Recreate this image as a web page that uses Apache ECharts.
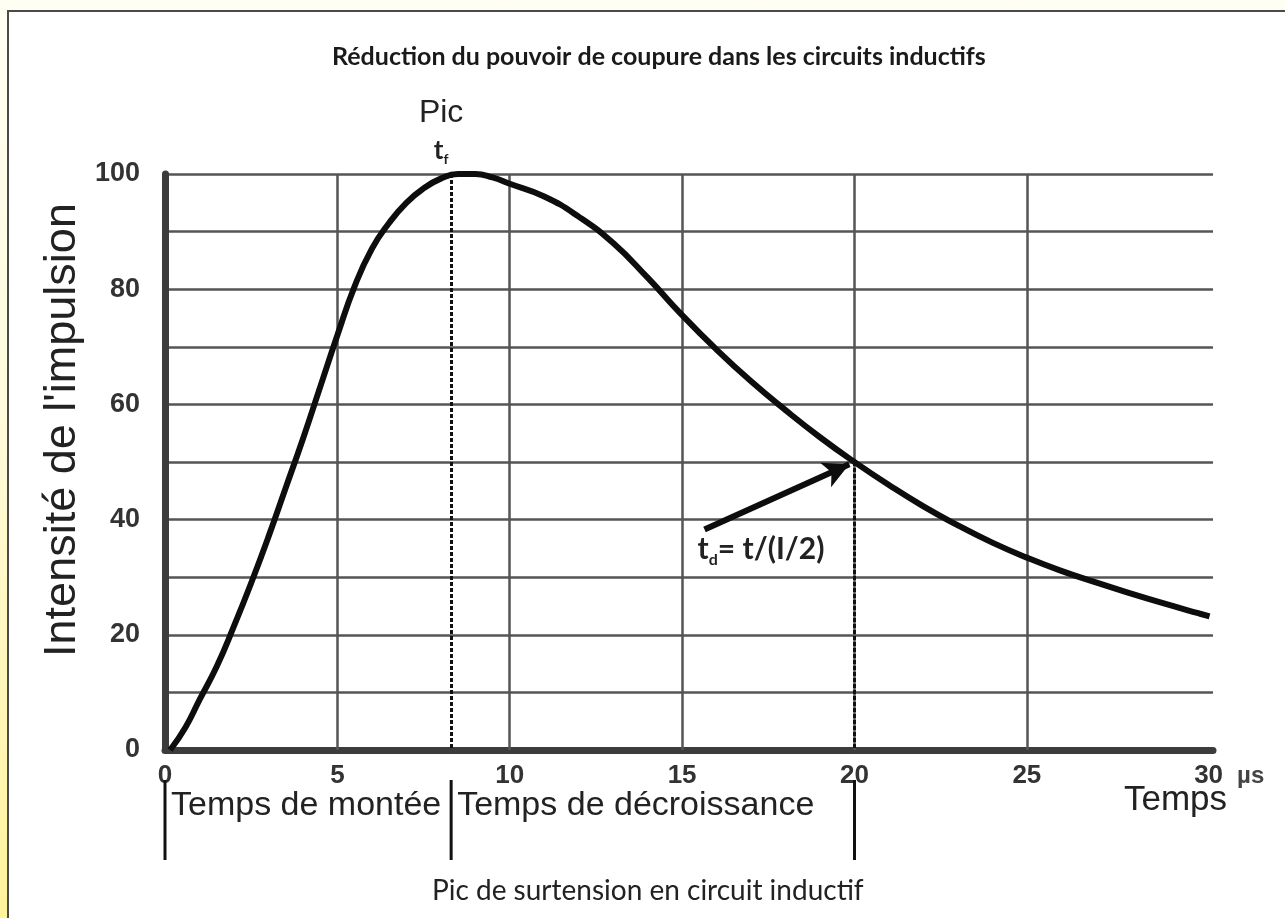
<!DOCTYPE html>
<html>
<head>
<meta charset="utf-8">
<script src="https://cdn.jsdelivr.net/npm/echarts@6/dist/echarts.min.js"></script>
<style>
  html, body { margin: 0; padding: 0; width: 1285px; height: 918px; overflow: hidden; }
  body { background: linear-gradient(to bottom, #fffef3 0%, #fffbdc 45%, #fff39c 100%); }
  #frame { position: absolute; left: 7px; top: 10px; right: 0; bottom: 0; background: #ffffff;
           border-top: 2px solid #4a4a4a; border-left: 2px solid #4a4a4a; }
  #chart { position: absolute; left: 0; top: 0; width: 1285px; height: 918px; }
</style>
</head>
<body>
<div id="frame"></div>
<div id="chart"></div>
<script>
// Pulse waveform: time in microseconds, intensity in % of peak
const timeUs = [0.15, 0.6, 1.0, 1.5, 2.0, 2.5, 3.0, 3.5, 4.0, 4.5, 5.0, 5.5, 6.0, 6.5, 7.0, 7.5, 8.0, 8.5, 9.0, 9.5,
                10, 11, 12, 13, 14, 15, 16, 17, 18, 19, 20, 21, 22, 23, 24, 25, 26, 27, 28, 29, 30, 30.3];
const intensity = [0, 4, 8.7, 14.5, 21.5, 29, 37, 45.5, 54, 63, 72, 80.5, 87, 91.5, 95, 97.5, 99.2, 100, 100, 99.4,
                   98.3, 96.1, 92.6, 88, 82, 75.5, 69.5, 64, 59, 54.3, 50, 46, 42.3, 39, 36, 33.4, 31.1, 29.1, 27.2, 25.4, 23.7, 23.2];

// Axis settings
const xMax = 30.4;
const xStep = 5;
const yMax = 100;
const yStep = 10;
const yLabelStep = 20;
const verticalGrid = [5, 10, 15, 20, 25];

// Key instants
const tPeak = 8.3;       // rise time t_f
const tHalf = 20;        // time to half value t_d
const halfValue = 50;

// Phase separators under the time axis and their captions
const separators = [0, tPeak, tHalf];
const phaseLabels = ['Temps de montée', 'Temps de décroissance', ''];

// Arrow pointing at the half-value point, and its caption anchor
const arrowFrom = [15.65, 38.3];
const arrowTo = [19.85, 49.6];
const tdLabelAt = [15.45, 34.8];

const curve = timeUs.map((t, i) => [t, intensity[i]]);

const chart = echarts.init(document.getElementById('chart'), null, { renderer: 'canvas' });

const axisFont = 'Liberation Sans, Arial, sans-serif';

chart.setOption({
  animation: false,
  backgroundColor: 'transparent',
  title: [
    {
      text: 'Réduction du pouvoir de coupure dans les circuits inductifs',
      left: 327,
      top: 39,
      padding: 5,
      textStyle: { fontFamily: 'Lato', fontWeight: 'bold', fontSize: 25, color: '#1a1a1a' }
    },
    {
      text: 'Pic de surtension en circuit inductif',
      left: 427,
      top: 872,
      padding: 5,
      textStyle: { fontFamily: 'Lato', fontWeight: 'normal', fontSize: 28, color: '#222' }
    },
    {
      // time axis title
      text: 'Temps',
      right: 58,
      top: 783,
      padding: 0,
      textStyle: { fontFamily: axisFont, fontWeight: 'normal', fontSize: 35, color: '#222' }
    }
  ],
  grid: { left: 165, right: 1285 - 1213, top: 174, bottom: 168, outerBoundsMode: 'none', containLabel: false },
  xAxis: {
    type: 'value',
    min: 0,
    max: xMax,
    interval: xStep,
    axisLine: { lineStyle: { color: '#3c3c3c', width: 7 } },
    axisTick: { show: false },
    splitLine: { show: false },
    axisLabel: {
      margin: 13,
      fontFamily: axisFont,
      fontWeight: 'bold',
      fontSize: 26,
      color: '#333',
      formatter: v => (v === 30 ? '{n|30}{u|µs}' : (v % xStep === 0 ? String(v) : '')),
      rich: {
        n: { fontFamily: axisFont, fontWeight: 'bold', fontSize: 26, color: '#333', padding: [0, 14, 0, 60] },
        u: { fontFamily: axisFont, fontWeight: 'bold', fontSize: 24, color: '#444' }
      }
    }
  },
  yAxis: {
    type: 'value',
    min: 0,
    max: yMax,
    interval: yStep,
    name: "Intensité de l'impulsion",
    nameLocation: 'middle',
    nameRotate: 90,
    nameGap: 80,
    nameMoveOverlap: false,
    nameTextStyle: { fontFamily: axisFont, fontSize: 45, color: '#222', padding: [14, 0, 0, 64] },
    axisLine: { show: true, lineStyle: { color: '#3c3c3c', width: 7 } },
    axisTick: { show: false },
    splitLine: { show: true, lineStyle: { color: '#555', width: 2.5 } },
    axisLabel: {
      margin: 25,
      fontFamily: axisFont,
      fontWeight: 'bold',
      fontSize: 27,
      color: '#333',
      formatter: v => (v % yLabelStep === 0 ? String(v) : '')
    }
  },
  series: [
    {
      // vertical grid lines
      type: 'line',
      data: [],
      z: 1,
      silent: true,
      markLine: {
        silent: true,
        symbol: ['none', 'none'],
        label: { show: false },
        lineStyle: { color: '#555', width: 2.5, type: 'solid' },
        data: verticalGrid.map(v => ({ xAxis: v }))
      }
    },
    {
      // dotted guides at t_f and t_d
      type: 'line',
      data: [],
      z: 2,
      silent: true,
      markLine: {
        silent: true,
        symbol: ['none', 'none'],
        label: { show: false },
        lineStyle: { color: '#111', width: 3, type: [4, 2] },
        data: [
          [{ coord: [tPeak, yMax] }, { coord: [tPeak, 0] }],
          [{ coord: [tHalf, halfValue] }, { coord: [tHalf, 0] }]
        ]
      }
    },
    {
      // pulse curve
      type: 'line',
      data: curve,
      smooth: 0.5,
      showSymbol: false,
      z: 5,
      lineStyle: { color: '#0d0d0d', width: 6 },
      markPoint: {
        silent: true,
        symbolSize: 0,
        data: [
          {
            coord: [tPeak, yMax],
            label: {
              show: true,
              position: 'top',
              distance: 8,
              offset: [-10, 0],
              formatter: '{p|Pic}\n{t|t}{f|f}',
              rich: {
                p: { fontFamily: axisFont, fontSize: 32, color: '#222', lineHeight: 46, align: 'center' },
                t: { fontFamily: 'Lato', fontWeight: 'bold', fontSize: 26, color: '#222', lineHeight: 30 },
                f: { fontFamily: 'Lato', fontWeight: 'bold', fontSize: 14, color: '#222', lineHeight: 30, verticalAlign: 'bottom' }
              }
            }
          }
        ]
      }
    },
    {
      // arrow to the half-value point and its caption
      type: 'line',
      data: [],
      z: 6,
      silent: true,
      markLine: {
        silent: true,
        symbol: ['none', 'arrow'],
        symbolSize: [20, 26],
        label: { show: false },
        lineStyle: { color: '#0d0d0d', width: 6, type: 'solid' },
        data: [[{ coord: arrowFrom }, { coord: arrowTo }]]
      },
      markPoint: {
        silent: true,
        symbolSize: 0,
        data: [
          {
            coord: tdLabelAt,
            label: {
              show: true,
              position: 'right',
              distance: 0,
              formatter: '{t|t}{d|d}{t|= t/(I/2)}',
              rich: {
                t: { fontFamily: 'Lato', fontWeight: 'bold', fontSize: 30, color: '#222', lineHeight: 36 },
                d: { fontFamily: 'Lato', fontWeight: 'bold', fontSize: 16, color: '#222', lineHeight: 36, verticalAlign: 'bottom' }
              }
            }
          }
        ]
      }
    },
    {
      // phase separators and captions below the time axis
      type: 'custom',
      coordinateSystem: 'cartesian2d',
      silent: true,
      z: 4,
      data: separators.map(t => [t, 0]),
      renderItem: function (params, api) {
        const p = api.coord([api.value(0), 0]);
        const children = [{
          type: 'line',
          shape: { x1: p[0], y1: p[1] + 30, x2: p[0], y2: p[1] + 110 },
          style: { stroke: '#111', lineWidth: 3 }
        }];
        const caption = phaseLabels[params.dataIndex];
        if (caption) {
          children.push({
            type: 'text',
            x: p[0] + 6,
            y: p[1] + 56,
            style: { text: caption, font: '34px "Liberation Sans", Arial, sans-serif', fill: '#222', verticalAlign: 'middle', align: 'left' }
          });
        }
        return { type: 'group', children: children };
      }
    }
  ]
});
</script>
</body>
</html>
